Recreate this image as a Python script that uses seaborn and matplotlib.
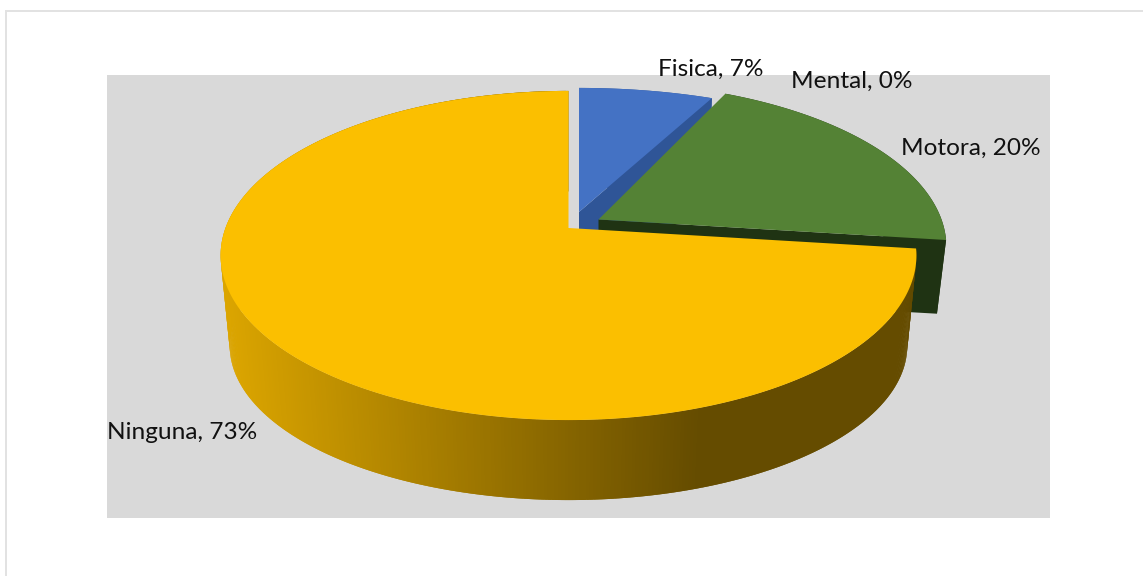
import numpy as np
import matplotlib
matplotlib.use("Agg")
import matplotlib.pyplot as plt
from matplotlib.collections import PolyCollection
from matplotlib.patches import Rectangle
import seaborn as sns

# Discapacidad reportada, en porcentaje
categories = ["Fisica", "Mental", "Motora", "Ninguna"]
shares = [7, 0, 20, 73]

sns.set_theme(style="white")
plt.rcParams["font.family"] = ["Lato", "DejaVu Sans"]

top_colors = sns.color_palette(["#4472C4", "#A5A5A5", "#548235", "#FBBF00"])
wall_colors = sns.color_palette(["#2F5597", "#7C7C7C", "#1F3313", "#654C00"])

# Perspective camera for the pie disc, in figure pixels
CX, TOP_Y, BOT_Y = 570.0, 228.0, 320.0
TOP_A, TOP_B = 160.0, 343.0
BOT_A, BOT_B = 150.0, 334.0
K = 0.167

# Per-slice placement: pull-out (dx, dy), scale (sx, sy), extra wall shortening
placement = {
    "Fisica": (9, -16, 1.047, 0.905, 0),
    "Mental": (0, 0, 1, 1, 0),
    "Motora": (28.5, -8.5, 1, 1, 17),
    "Ninguna": (-1.5, 0, 1, 1, 0),
}
label_anchor = {
    "Fisica": (658, 76),
    "Mental": (791, 88),
    "Motora": (901, 155),
    "Ninguna": (107, 439),
}


def disc_point(theta, radius, y0, a, b):
    """Project a polar point on a horizontal disc to the screen (clockwise from 12 o'clock)."""
    x = radius * np.sin(theta)
    z = radius * np.cos(theta)
    w = 1 + K * z
    return CX + b * x / w, y0 - a * z / w


def slice_outline(t0, t1, place, level):
    dx, dy, sx, sy, short = place
    theta = np.linspace(t0, t1, max(int(np.degrees(t1 - t0) * 2), 2))
    if level == "top":
        px, py = disc_point(theta, 1.0, TOP_Y, TOP_A, TOP_B)
        yc = TOP_Y
    else:
        px, py = disc_point(theta, 1.0, BOT_Y, BOT_A, BOT_B)
        yc = BOT_Y - short
        py = py - short
    px = CX + (px - CX) * sx + dx
    py = yc + (py - yc) * sy + dy
    return (CX + dx, yc + dy), np.column_stack([px, py])


def wall_shade(x):
    """Darken the rim from left to right across the front of the disc."""
    f = np.clip((x - 220.0) / 480.0, 0, 1)
    left = np.array([0.87, 0.655, 0.0])
    right = np.array(wall_colors[3])
    return tuple(left + (right - left) * f)


fig = plt.figure(figsize=(11.43, 5.76), dpi=100, facecolor="white")
ax = fig.add_axes([0, 0, 1, 1])
ax.set_xlim(0, 1143)
ax.set_ylim(576, 0)
ax.axis("off")

# Outer chart frame and the grey plot area
ax.add_patch(Rectangle((5, 10), 1138, 1.8, fc="#E2E2E2", ec="none"))
ax.add_patch(Rectangle((5, 10), 1.8, 566, fc="#E2E2E2", ec="none"))
ax.add_patch(Rectangle((107, 75), 943, 443, fc="#D9D9D9", ec="none"))

edges = np.radians(np.cumsum([0] + shares) * 3.6)

# Slices are painted from the back of the disc to the front
for i, name in enumerate(categories):
    if shares[i] == 0:
        continue
    t0, t1 = edges[i], edges[i + 1]
    place = placement[name]
    apex_t, arc_t = slice_outline(t0, t1, place, "top")
    apex_b, arc_b = slice_outline(t0, t1, place, "bot")

    if name == "Ninguna":
        # Rim strips overlap their neighbour and are laid left to right, so no seams show
        quads, shades = [], []
        for j in range(len(arc_t) - 1, 1, -1):
            quads.append([arc_t[j], arc_t[j - 2], arc_b[j - 2], arc_b[j]])
            shades.append(wall_shade(0.5 * (arc_t[j - 1, 0] + arc_b[j - 1, 0])))
        ax.add_collection(PolyCollection(quads, facecolors=shades, edgecolors="none", linewidths=0))
    else:
        rim = np.vstack([arc_t, arc_b[::-1]])
        ax.fill(rim[:, 0], rim[:, 1], color=wall_colors[i], lw=0)
        # Cut face along the clockwise edge of the slice
        face = np.array([apex_t, arc_t[-1], arc_b[-1], (apex_t[0], apex_b[1])])
        ax.fill(face[:, 0], face[:, 1], color=wall_colors[i], lw=0)

    top = np.vstack([apex_t, arc_t])
    ax.fill(top[:, 0], top[:, 1], color=top_colors[i], lw=0)

for name, value in zip(categories, shares):
    x, y = label_anchor[name]
    ax.text(x, y, f"{name}, {value}%", fontsize=17.6, color="#111111", ha="left", va="baseline")

fig.savefig("out.png", dpi=100, facecolor="white")
